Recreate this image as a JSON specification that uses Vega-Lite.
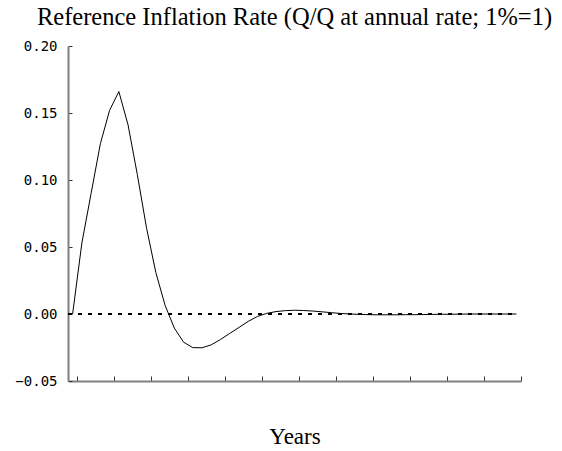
{
  "$schema": "https://vega.github.io/schema/vega-lite/v6.json",
  "width": 453,
  "height": 335,
  "autosize": "none",
  "padding": {"left": 68, "top": 46, "right": 41, "bottom": 70},
  "background": "white",
  "title": {"text": "Reference Inflation Rate (Q/Q at annual rate; 1%=1)", "font": "Liberation Serif", "fontSize": 24.5, "fontWeight": "normal", "color": "black", "offset": 9, "anchor": "middle"},
  "config": {"view": {"stroke": null}},
  "data": {"values": [
    {"q": 0, "v": 0}, {"q": 1, "v": 0.053}, {"q": 2, "v": 0.09}, {"q": 3, "v": 0.127},
    {"q": 4, "v": 0.152}, {"q": 5, "v": 0.166}, {"q": 6, "v": 0.141}, {"q": 7, "v": 0.104},
    {"q": 8, "v": 0.064}, {"q": 9, "v": 0.031}, {"q": 10, "v": 0.0065}, {"q": 11, "v": -0.0105},
    {"q": 12, "v": -0.021}, {"q": 13, "v": -0.0251}, {"q": 14, "v": -0.0252}, {"q": 15, "v": -0.023},
    {"q": 16, "v": -0.019}, {"q": 17, "v": -0.0145}, {"q": 18, "v": -0.01}, {"q": 19, "v": -0.0055},
    {"q": 20, "v": -0.0018}, {"q": 21, "v": 0.0005}, {"q": 22, "v": 0.0018}, {"q": 23, "v": 0.0025},
    {"q": 24, "v": 0.0028}, {"q": 25, "v": 0.0026}, {"q": 26, "v": 0.0022}, {"q": 27, "v": 0.0016},
    {"q": 28, "v": 0.001}, {"q": 29, "v": 0.0004}, {"q": 30, "v": 0.0}, {"q": 31, "v": -0.0003},
    {"q": 32, "v": -0.0005}, {"q": 33, "v": -0.0006}, {"q": 34, "v": -0.0006}, {"q": 35, "v": -0.0006},
    {"q": 36, "v": -0.0005}, {"q": 37, "v": -0.0005}, {"q": 38, "v": -0.0004}, {"q": 39, "v": -0.0003},
    {"q": 40, "v": -0.0002}, {"q": 41, "v": -0.0002}, {"q": 42, "v": -0.0001}, {"q": 43, "v": 0},
    {"q": 44, "v": 0}, {"q": 45, "v": 0}, {"q": 46, "v": 0}, {"q": 47, "v": 0}, {"q": 48, "v": 0}
  ]},
  "layer": [
    {
      "mark": {"type": "rule", "color": "black", "strokeWidth": 1, "strokeDash": [4, 6]},
      "encoding": {
        "x": {"datum": -0.5, "type": "quantitative"},
        "x2": {"datum": 48},
        "y": {"datum": 0, "type": "quantitative"}
      }
    },
    {
      "mark": {"type": "line", "color": "black", "strokeWidth": 1},
      "encoding": {
        "x": {
          "field": "q", "type": "quantitative",
          "scale": {"domain": [-0.5, 48.5], "nice": false, "zero": false},
          "axis": {
            "title": "Years", "titleFont": "Liberation Serif", "titleFontSize": 23, "titleFontWeight": "normal", "titleColor": "black", "titlePadding": 44,
            "values": [0.5, 4.5, 8.5, 12.5, 16.5, 20.5, 24.5, 28.5, 32.5, 36.5, 40.5, 44.5, 48.5],
            "tickCount": 20,
            "labels": false, "grid": false,
            "domainColor": "#808080", "domainWidth": 2,
            "tickColor": "#303030", "tickSize": -5, "tickWidth": 1
          }
        },
        "y": {
          "field": "v", "type": "quantitative",
          "scale": {"domain": [-0.05, 0.2], "nice": false},
          "axis": {
            "title": null, "grid": false,
            "values": [-0.05, 0, 0.05, 0.1, 0.15, 0.2],
            "tickCount": 10,
            "format": ".2f",
            "labelFont": "DejaVu Sans Mono", "labelFontSize": 14, "labelColor": "black", "labelPadding": 15,
            "domainColor": "#808080", "domainWidth": 2,
            "tickColor": "#303030", "tickSize": -4, "tickWidth": 1
          }
        }
      }
    }
  ]
}
